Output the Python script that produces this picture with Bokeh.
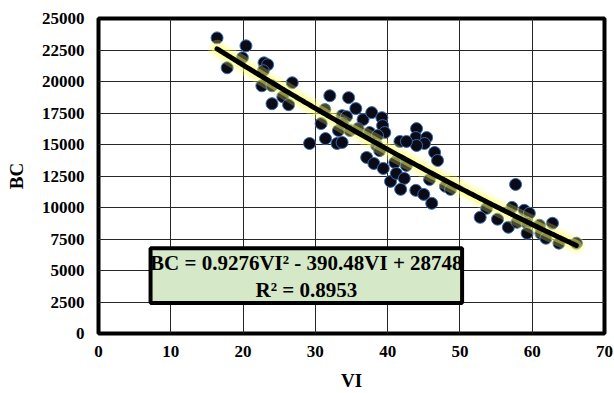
from bokeh.plotting import figure
from bokeh.models import Range1d, FixedTicker, BoxAnnotation, Label
from bokeh.embed import file_html
from bokeh.resources import INLINE
import numpy as np

vi = [16.4, 20.4, 19.9, 17.8, 22.9, 23.4, 22.8, 22.6, 24.0, 26.8, 25.5, 24.0, 26.3, 29.2,
      32.0, 34.6, 35.6, 31.3, 33.7, 34.3, 36.6, 37.8, 39.2, 30.8, 33.8, 33.2, 34.8, 35.9,
      37.5, 39.3, 39.6, 38.6, 31.4, 33.0, 33.7, 38.5, 38.9, 37.1, 38.1, 39.4, 40.4,
      44.0, 43.9, 45.4, 45.1, 44.0, 41.7, 42.6, 46.5, 46.9, 41.4, 41.0, 42.6, 41.2, 42.3,
      41.8, 43.9, 45.0, 46.1, 45.8, 48.0, 48.7,
      57.7, 53.7, 52.8, 55.2, 57.2, 56.7, 58.9, 59.6, 57.9, 59.3, 59.3, 61.0, 61.2, 62.8,
      61.9, 63.7, 66.1]
bc = [23460, 22830, 21880, 21090, 21480, 21330, 20850, 19660, 19660, 19900, 18790, 18240, 18160, 15080,
      18870, 18720, 17850, 17770, 17290, 17210, 16980, 17530, 17130, 16660, 16660, 16110, 16110, 16260,
      15950, 16500, 15950, 15710, 15470, 15080, 15160, 14920, 14520, 13970, 13490, 13100, 12070,
      16260, 15550, 15550, 15080, 14920, 15240, 15240, 14370, 13730, 13810, 13570, 13340, 12700, 12310,
      11440, 11360, 11040, 10330, 12230, 11680, 11440,
      11830, 9940, 9220, 9070, 10010, 8430, 9780, 9540, 8830, 8750, 7960, 8590, 7960, 8750,
      7560, 7170, 7170]

# trendline coefficients as displayed on the chart
coef_a, coef_b, coef_c = 0.9276, -390.48, 28748
eq_text = "BC = 0.9276VI² - 390.48VI + 28748"
r2_text = "R² = 0.8953"

x_ticks = [0, 10, 20, 30, 40, 50, 60, 70]
y_ticks = [0, 2500, 5000, 7500, 10000, 12500, 15000, 17500, 20000, 22500, 25000]

FONT = "Liberation Serif"

p = figure(width=614, height=393, output_backend="svg", toolbar_location=None,
           x_range=Range1d(0, 70), y_range=Range1d(0, 25000),
           min_border_left=98, min_border_right=10, min_border_top=18, min_border_bottom=59)

p.outline_line_color = "black"
p.outline_line_width = 4

for ax in (p.xaxis, p.yaxis):
    ax.axis_line_color = None
    ax.major_tick_line_color = None
    ax.minor_tick_line_color = None
    ax.major_tick_out = 0
    ax.major_tick_in = 0
    ax.major_label_text_font = FONT
    ax.major_label_text_font_style = "bold"
    ax.major_label_text_font_size = "17px"
    ax.major_label_text_color = "black"
    ax.axis_label_text_font = FONT
    ax.axis_label_text_font_style = "bold"
    ax.axis_label_text_font_size = "19px"
    ax.axis_label_text_color = "black"

p.xaxis.ticker = FixedTicker(ticks=x_ticks)
p.yaxis.ticker = FixedTicker(ticks=y_ticks)
p.xaxis.axis_label = "VI"
p.yaxis.axis_label = "BC"
p.xaxis.major_label_standoff = 12
p.yaxis.major_label_standoff = 14
p.xaxis.axis_label_standoff = 10
p.yaxis.axis_label_standoff = 12

p.xgrid.ticker = FixedTicker(ticks=x_ticks)
p.ygrid.ticker = FixedTicker(ticks=y_ticks)
for g in (p.xgrid, p.ygrid):
    g.grid_line_color = "#262626"
    g.grid_line_width = 1
    g.grid_line_alpha = 1

p.scatter(vi, bc, size=12, fill_color="#0b0b18", line_color="#3a6bb0", line_width=1)

tx = np.linspace(min(vi), max(vi), 200)
ty = coef_a * tx ** 2 + coef_b * tx + coef_c
p.line(tx, ty, line_color="#ffff66", line_width=18, line_alpha=0.25, line_cap="round")
p.line(tx, ty, line_color="#ffff66", line_width=11, line_alpha=0.4, line_cap="round")
p.line(tx, ty, line_color="black", line_width=5, line_cap="round")

box = BoxAnnotation(left=7.2, right=50.3, bottom=2420, top=6770,
                    fill_color="#d5e8c8", fill_alpha=1,
                    line_color="black", line_width=4, line_alpha=1)
p.add_layout(box)

p.add_layout(Label(x=28.75, y=5585, text=eq_text, text_align="center", text_baseline="middle",
                   text_font=FONT, text_font_style="bold", text_font_size="21px", text_color="black"))
p.add_layout(Label(x=28.75, y=3449, text=r2_text, text_align="center", text_baseline="middle",
                   text_font=FONT, text_font_style="bold", text_font_size="21px", text_color="black"))

open("out.html", "w").write(file_html(p, INLINE))
